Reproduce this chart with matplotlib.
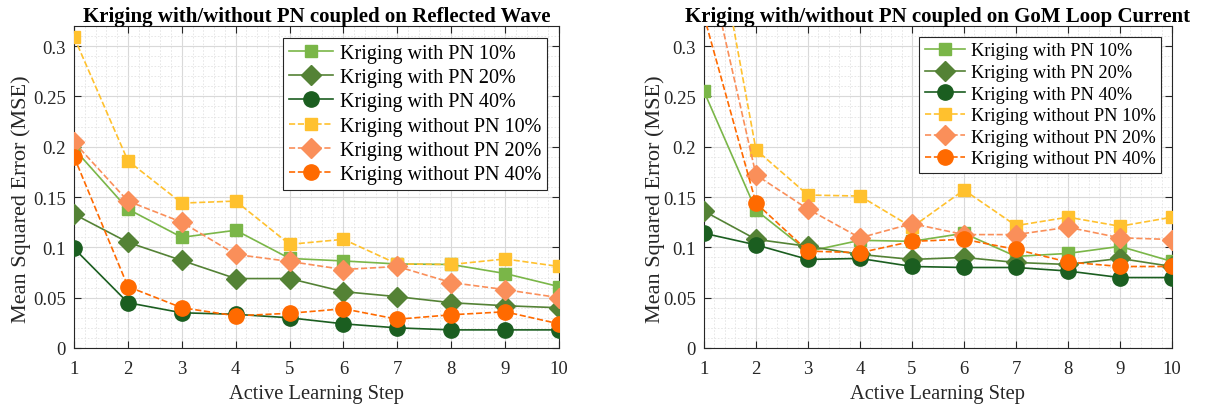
import matplotlib
matplotlib.use("Agg")
import matplotlib.pyplot as plt
from matplotlib.ticker import MultipleLocator

plt.rcParams['font.family'] = ['Liberation Serif', 'DejaVu Serif']
plt.rcParams['mathtext.fontset'] = 'stix'

steps = [1, 2, 3, 4, 5, 6, 7, 8, 9, 10]

series_labels = ["Kriging with PN 10%", "Kriging with PN 20%", "Kriging with PN 40%",
                 "Kriging without PN 10%", "Kriging without PN 20%", "Kriging without PN 40%"]

# Reflected Wave
rw_with_10 = [0.198, 0.138, 0.110, 0.117, 0.089, 0.0865, 0.0835, 0.083, 0.074, 0.061]
rw_with_20 = [0.133, 0.105, 0.087, 0.069, 0.069, 0.056, 0.051, 0.045, 0.042, 0.040]
rw_with_40 = [0.099, 0.045, 0.035, 0.0335, 0.030, 0.024, 0.020, 0.018, 0.018, 0.018]
rw_wo_10 = [0.309, 0.186, 0.144, 0.146, 0.103, 0.108, 0.0835, 0.083, 0.0885, 0.081]
rw_wo_20 = [0.2045, 0.146, 0.125, 0.093, 0.086, 0.078, 0.081, 0.065, 0.058, 0.050]
rw_wo_40 = [0.190, 0.061, 0.040, 0.032, 0.0345, 0.039, 0.0286, 0.033, 0.036, 0.024]

# GoM Loop Current
gom_with_10 = [0.255, 0.137, 0.096, 0.107, 0.106, 0.114, 0.091, 0.094, 0.101, 0.086]
gom_with_20 = [0.136, 0.108, 0.101, 0.093, 0.088, 0.090, 0.085, 0.083, 0.089, 0.081]
gom_with_40 = [0.114, 0.1025, 0.088, 0.089, 0.081, 0.080, 0.080, 0.0765, 0.070, 0.070]
gom_wo_10 = [0.479, 0.197, 0.152, 0.151, 0.120, 0.157, 0.1216, 0.130, 0.121, 0.130]
gom_wo_20 = [0.400, 0.172, 0.138, 0.1095, 0.1236, 0.1127, 0.1127, 0.120, 0.1095, 0.1078]
gom_wo_40 = [0.330, 0.144, 0.0963, 0.0947, 0.106, 0.108, 0.098, 0.0854, 0.081, 0.081]

titles = ["Kriging with/without PN coupled on Reflected Wave",
          "Kriging with/without PN coupled on GoM Loop Current"]

y_tick_values = [0, 0.05, 0.1, 0.15, 0.2, 0.25, 0.3]
y_tick_labels = ['0', '0.05', '0.1', '0.15', '0.2', '0.25', '0.3']

colors = ['#7AB648', '#548235', '#1B5E20', '#FFC12E', '#FA8F5A', '#FF6A00']
markers = ['s', 'D', 'o', 's', 'D', 'o']
msizes = [9, 10, 11, 9, 10, 11]
styles = ['-', '-', '-', '--', '--', '--']

fig = plt.figure(figsize=(12.1, 4.06), dpi=100)
ax1 = fig.add_axes([0.0612, 0.1404, 0.4008, 0.7931])
ax2 = fig.add_axes([0.5818, 0.1404, 0.3868, 0.7931])

datasets = [
    [rw_with_10, rw_with_20, rw_with_40, rw_wo_10, rw_wo_20, rw_wo_40],
    [gom_with_10, gom_with_20, gom_with_40, gom_wo_10, gom_wo_20, gom_wo_40],
]
legend_sizes = [14.5, 13.2]
ylabel_x = [-0.0887, -0.083]

for ax, data, title, lfs, ylx in zip([ax1, ax2], datasets, titles, legend_sizes, ylabel_x):
    for i, (vals, lab) in enumerate(zip(data, series_labels)):
        ax.plot(steps, vals, linestyle=styles[i], color=colors[i], marker=markers[i],
                markersize=msizes[i], markerfacecolor=colors[i], markeredgecolor=colors[i],
                linewidth=1.2, label=lab, clip_on=True, zorder=3)
    ax.set_xlim(1, 10)
    ax.set_ylim(0, 0.32)
    ax.xaxis.set_major_locator(MultipleLocator(1))
    ax.xaxis.set_minor_locator(MultipleLocator(0.2))
    ax.yaxis.set_minor_locator(MultipleLocator(0.01))
    ax.set_yticks(y_tick_values)
    ax.set_yticklabels(y_tick_labels)
    ax.grid(which='major', color='#d9d9d9', linewidth=0.8, linestyle='-', zorder=0)
    ax.grid(which='minor', color='#e3e3e3', linewidth=0.6, linestyle=(0, (2, 2)), zorder=0)
    ax.set_axisbelow(True)
    ax.tick_params(which='both', direction='in', top=True, right=True, colors='#262626',
                   labelsize=13.5, labelcolor='#262626')
    ax.tick_params(which='major', length=5, width=0.8)
    ax.tick_params(which='minor', length=0)
    ax.tick_params(axis='x', pad=8.5)
    ax.tick_params(axis='y', pad=6)
    for sp in ax.spines.values():
        sp.set_color('#262626')
        sp.set_linewidth(0.8)
    ax.set_xlabel("Active Learning Step", fontsize=14.8, color='#262626', labelpad=5)
    ax.set_ylabel("Mean Squared Error (MSE)", fontsize=16, color='#262626')
    ax.yaxis.set_label_coords(ylx, 0.464)
    ax.set_title(title, fontsize=15, fontweight='bold', pad=3)
    leg = ax.legend(loc='upper right', fontsize=lfs, frameon=True, fancybox=False,
                    edgecolor='#262626', framealpha=1, borderpad=0.3, labelspacing=0.25,
                    handlelength=2.2, handletextpad=0.3, borderaxespad=0.6)
    leg.get_frame().set_linewidth(0.8)

fig.savefig("out.png", dpi=100)
